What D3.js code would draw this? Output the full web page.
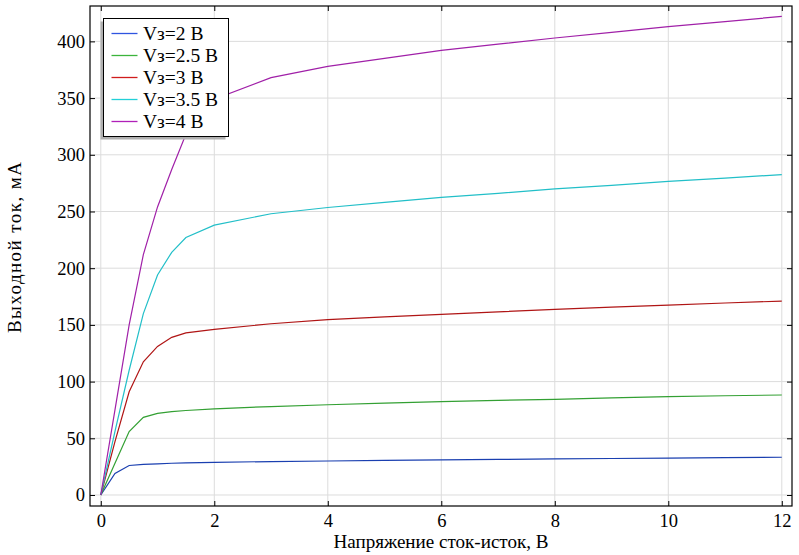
<!DOCTYPE html>
<html><head><meta charset="utf-8">
<script src="https://cdn.jsdelivr.net/npm/d3@7"></script>
<style>body{margin:0;background:#fff}svg{display:block}text{font-family:"Liberation Serif","Times New Roman",serif}</style>
</head><body><svg id="c" width="799" height="555"></svg>
<script>
const vds = [0,0.25,0.5,0.75,1,1.25,1.5,2,3,4,5,6,7,8,9,10,11,12];
const id2  = [0,19,26,27,27.5,28,28.3,28.8,29.5,30,30.5,31,31.4,31.8,32.2,32.6,33,33.3];
const id25 = [0,28,56,68.5,72,73.5,74.5,76,78,79.6,81,82.3,83.4,84.4,85.6,86.7,87.5,88.2];
const id3  = [0,47,91,117.5,131,139,143,146,151,154.6,157,159.3,161.5,163.7,165.6,167.5,169.3,171];
const id35 = [0,56,110,160,194,214,227,238,248,253.5,258,262.5,266,270,273,276.5,279.5,282.5];
const id4  = [0,75,150,212,254,287,318,349,368,378,385,392,397.5,403,408,413,417.5,422];
const labels = ["Vз=2 В","Vз=2.5 В","Vз=3 В","Vз=3.5 В","Vз=4 В"];
const colors = ["#1a3fb0","#33a033","#b01515","#22bfc8","#a020a8"];
const legendColors = ["#2f55e0","#3cb43c","#d01c1c","#22d0d8","#b020b8"];
const xTicks = [0,2,4,6,8,10,12];
const yTicks = [0,50,100,150,200,250,300,350,400];
const series = [id2,id25,id3,id35,id4];

const svg = d3.select("#c");
const L=90,R=792,T=6,B=506;
const x = d3.scaleLinear().domain([-0.19,12.18]).range([L,R]);
const y = d3.scaleLinear().domain([-9.7,431.2]).range([B,T]);

// grid
const g = svg.append("g");
g.selectAll(".gx").data(xTicks).join("line").attr("x1",d=>x(d)).attr("x2",d=>x(d)).attr("y1",T).attr("y2",B).attr("stroke","#dcdcdc");
g.selectAll(".gy").data(yTicks).join("line").attr("y1",d=>y(d)).attr("y2",d=>y(d)).attr("x1",L).attr("x2",R).attr("stroke","#dcdcdc");

// lines
const line = d3.line().x((d,i)=>x(vds[i])).y(d=>y(d));
series.forEach((s,k)=>{
  svg.append("path").datum(s).attr("d",line).attr("fill","none").attr("stroke",colors[k]).attr("stroke-width",1.2);
});

// axes (inward ticks on all sides)
const fmt = d3.format("d");
const ax = svg.append("g").attr("transform",`translate(0,${B})`).call(d3.axisBottom(x).tickValues(xTicks).tickSize(-5).tickPadding(8).tickFormat(fmt));
const axt = svg.append("g").attr("transform",`translate(0,${T})`).call(d3.axisTop(x).tickValues(xTicks).tickSize(-5).tickFormat(""));
const ay = svg.append("g").attr("transform",`translate(${L},0)`).call(d3.axisLeft(y).tickValues(yTicks).tickSize(-5).tickPadding(5).tickFormat(fmt));
const ayr = svg.append("g").attr("transform",`translate(${R},0)`).call(d3.axisRight(y).tickValues(yTicks).tickSize(-5).tickFormat(""));
[ax,axt,ay,ayr].forEach(a=>{a.select(".domain").remove();a.attr("font-size",18.5).attr("font-family","Liberation Serif");a.selectAll("line").attr("stroke","#000");a.selectAll("text").attr("fill","#000");});
svg.append("rect").attr("x",L).attr("y",T).attr("width",R-L).attr("height",B-T).attr("fill","none").attr("stroke","#000").attr("stroke-width",1.2);

// titles
svg.append("text").attr("x",(L+R)/2).attr("y",547.5).attr("text-anchor","middle").attr("font-size",19).attr("textLength",215).attr("lengthAdjust","spacingAndGlyphs").text("Напряжение сток-исток, В");
svg.append("text").attr("transform",`translate(21,247.5) rotate(-90)`).attr("text-anchor","middle").attr("font-size",19).attr("textLength",171).attr("lengthAdjust","spacing").text("Выходной ток, мА");

// legend
const lx=103.5, ly=18.5, lw=125, lh=118;
svg.append("rect").attr("x",lx-3).attr("y",ly+3).attr("width",lw).attr("height",lh).attr("fill","#b0b0b0");
svg.append("rect").attr("x",lx).attr("y",ly).attr("width",lw).attr("height",lh).attr("fill","#fff").attr("stroke","#000").attr("stroke-width",1);
labels.forEach((t,i)=>{
  const yy = 33.5 + i*22;
  svg.append("line").attr("x1",111.5).attr("x2",137.5).attr("y1",yy).attr("y2",yy).attr("stroke",legendColors[i]).attr("stroke-width",1.3);
  svg.append("text").attr("x",143).attr("y",yy+6.5).attr("font-size",19.5).text(t);
});
</script></body></html>
